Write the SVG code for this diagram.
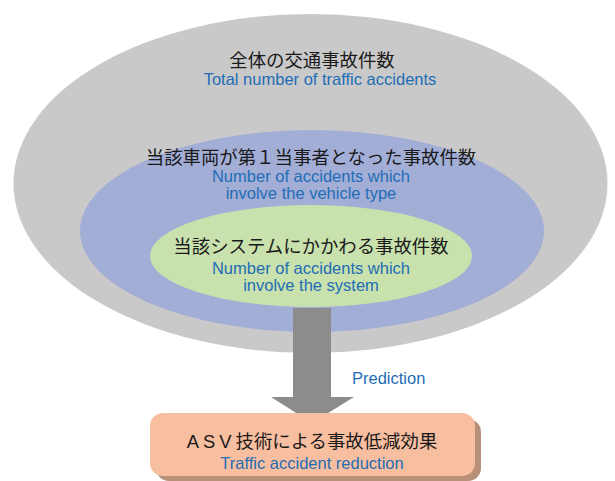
<svg xmlns="http://www.w3.org/2000/svg" width="615" height="481" viewBox="0 0 615 481">
  <style>
    .jp { font-family: "Liberation Sans", "Noto Sans CJK JP", sans-serif; font-size: 18.4px; fill: #1a1a1a; text-anchor: middle; }
    .en { font-family: "Liberation Sans", Arial, sans-serif; font-size: 16.5px; fill: #1f6db5; text-anchor: middle; }
  </style>
  <rect width="615" height="481" fill="#ffffff"/>

  <g id="total">
    <ellipse cx="310.5" cy="183.5" rx="297" ry="169.5" fill="#c9c9c9"/>
    <text class="jp" x="312" y="67">全体の交通事故件数</text>
    <text class="en" x="320" y="85">Total number of traffic accidents</text>
  </g>

  <g id="vehicle">
    <ellipse cx="312" cy="231" rx="232" ry="101" fill="#a3aed7"/>
    <text class="jp" x="311" y="164">当該車両が第１当事者となった事故件数</text>
    <text class="en" x="311" y="182">Number of accidents which</text>
    <text class="en" x="311" y="199">involve the vehicle type</text>
  </g>

  <g id="system">
    <ellipse cx="311" cy="256" rx="161" ry="51" fill="#c8e1ad"/>
    <text class="jp" x="311" y="253">当該システムにかかわる事故件数</text>
    <text class="en" x="311" y="274">Number of accidents which</text>
    <text class="en" x="311" y="291">involve the system</text>
  </g>

  <g id="connectors">
    <polygon points="293,308 331,308 331,397 354,397 312,423 271,397 293,397" fill="#8c8c8c"/>
    <text class="en" x="352" y="384" style="text-anchor:start">Prediction</text>
  </g>

  <g id="effect">
    <rect x="156" y="419" width="325" height="62" rx="13" fill="#b88f79"/>
    <rect x="150" y="413" width="325" height="63" rx="13" fill="#f8bea0"/>
    <text class="jp" x="312" y="448"><tspan letter-spacing="4">ASV</tspan>技術による事故低減効果</text>
    <text class="en" x="312" y="469">Traffic accident reduction</text>
  </g>
</svg>
